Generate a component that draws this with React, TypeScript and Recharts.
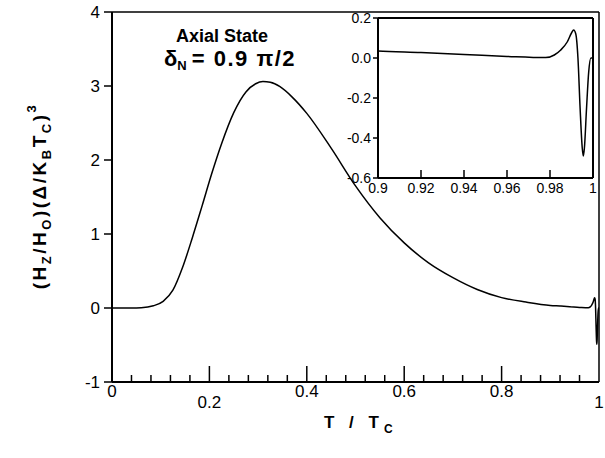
import { LineChart, Line, XAxis, YAxis, ReferenceLine } from 'recharts';

// T / Tc and (Hz/H0)(Δ/kB Tc)^3
const tValues = [
  0, 0.04, 0.06, 0.085, 0.105, 0.125, 0.145, 0.165, 0.185, 0.205, 0.225, 0.25, 0.275,
  0.295, 0.31, 0.325, 0.345, 0.37, 0.4, 0.45, 0.5, 0.55, 0.6, 0.65, 0.7, 0.75, 0.8,
  0.85, 0.9, 0.92, 0.94, 0.96, 0.978, 0.982, 0.985, 0.988, 0.99, 0.991, 0.992, 0.993,
  0.994, 0.995, 0.9955, 0.996, 0.997, 0.998, 0.999, 1.0,
];
const hValues = [
  0, 0, 0.003, 0.03, 0.09, 0.24, 0.55, 0.95, 1.38, 1.82, 2.22, 2.64, 2.92,
  3.03, 3.06, 3.05, 2.99, 2.85, 2.63, 2.16, 1.65, 1.22, 0.88, 0.61, 0.41, 0.25, 0.14,
  0.08, 0.035, 0.027, 0.018, 0.008, 0.002, 0.015, 0.04, 0.08, 0.125, 0.14, 0.12, 0.0,
  -0.25, -0.45, -0.49, -0.45, -0.25, -0.07, 0.0, 0.0,
];

const mainXTicks = [
  0, 0.04, 0.08, 0.12, 0.16, 0.2, 0.24, 0.28, 0.32, 0.36, 0.4, 0.44, 0.48, 0.52,
  0.56, 0.6, 0.64, 0.68, 0.72, 0.76, 0.8, 0.84, 0.88, 0.92, 0.96, 1,
];
const mainXLabels = [0, 0.2, 0.4, 0.6, 0.8, 1];
const mainYTicks = [-1, 0, 1, 2, 3, 4];

const insetXTicks = [0.9, 0.92, 0.94, 0.96, 0.98, 1];
const insetYTicks = [-0.6, -0.4, -0.2, 0, 0.2];

const data = tValues.map((t, i) => ({ t, h: hValues[i] }));

const FONT = '"Liberation Sans", Arial, Helvetica, sans-serif';
const near = (a: number, b: number) => Math.abs(a - b) < 1e-6;

function MainXTick({ x, y, payload }: any) {
  const v = payload.value;
  const major = mainXLabels.some((m) => near(m, v));
  // the scan has 0.2 and 1 printed a bit lower
  const drop = near(v, 0.2) || near(v, 1) ? 26 : 15;
  return (
    <g>
      {v > 0 && v < 1 && (
        <line x1={x} x2={x} y1={y} y2={y - (major ? 16 : 7)} stroke="#000" strokeWidth={1.5} />
      )}
      {major && (
        <text x={x} y={y + drop} textAnchor="middle" fontSize={17} fontFamily={FONT} fill="#000">
          {String(+v.toFixed(2))}
        </text>
      )}
    </g>
  );
}

function InsetXTick({ x, y, payload }: any) {
  const v = payload.value;
  return (
    <g>
      {v > 0.9 && v < 1 && (
        <line x1={x} x2={x} y1={y} y2={y - 8} stroke="#000" strokeWidth={1.5} />
      )}
      <text x={x} y={y + 15} textAnchor="middle" fontSize={14} fontFamily={FONT} fill="#000">
        {String(+v.toFixed(2))}
      </text>
    </g>
  );
}

export default function App() {
  return (
    <div style={{ position: 'absolute', left: 0, top: 0, width: 605, height: 458, background: '#fff' }}>
      <div style={{ position: 'absolute', left: 0, top: 0 }}>
        <LineChart width={605} height={458} data={data} margin={{ top: 12, right: 6, left: 0, bottom: 0 }}>
          <XAxis
            dataKey="t"
            type="number"
            domain={[0, 1]}
            ticks={mainXTicks}
            interval={0}
            tickSize={0}
            tickMargin={0}
            tick={<MainXTick />}
            axisLine={{ stroke: '#000', strokeWidth: 2 }}
            height={76}
          />
          <YAxis
            type="number"
            domain={[-1, 4]}
            ticks={mainYTicks}
            interval={0}
            tickSize={8}
            tickMargin={4}
            tickLine={{ stroke: '#000', strokeWidth: 1.5 }}
            tick={{ fill: '#000', fontSize: 17, fontFamily: FONT }}
            axisLine={{ stroke: '#000', strokeWidth: 2 }}
            width={112}
          />
          <ReferenceLine y={4} stroke="#000" strokeWidth={1.5} />
          <ReferenceLine x={1} stroke="#000" strokeWidth={1.5} />
          <Line
            type="monotone"
            dataKey="h"
            stroke="#000"
            strokeWidth={1.5}
            dot={false}
            isAnimationActive={false}
          />
        </LineChart>
      </div>

      {/* inset: zoom near Tc */}
      <div style={{ position: 'absolute', left: 330, top: 0 }}>
        <LineChart width={275} height={200} data={data} margin={{ top: 18, right: 12, left: 0, bottom: 0 }}>
          <XAxis
            dataKey="t"
            type="number"
            domain={[0.9, 1]}
            allowDataOverflow
            ticks={insetXTicks}
            interval={0}
            tickSize={0}
            tickMargin={0}
            tick={<InsetXTick />}
            axisLine={{ stroke: '#000', strokeWidth: 2 }}
            height={22}
          />
          <YAxis
            type="number"
            domain={[-0.6, 0.2]}
            allowDataOverflow
            ticks={insetYTicks}
            interval={0}
            tickSize={5}
            tickMargin={2}
            tickFormatter={(v: number) => v.toFixed(1)}
            tickLine={{ stroke: '#000', strokeWidth: 1.5 }}
            tick={{ fill: '#000', fontSize: 14, fontFamily: FONT }}
            axisLine={{ stroke: '#000', strokeWidth: 2 }}
            width={48}
          />
          <ReferenceLine y={0.2} stroke="#000" strokeWidth={2} />
          <ReferenceLine x={1} stroke="#000" strokeWidth={2} />
          <Line
            type="monotone"
            dataKey="h"
            stroke="#000"
            strokeWidth={1.5}
            dot={false}
            isAnimationActive={false}
          />
        </LineChart>
      </div>

      {/* titles and annotation */}
      <svg
        width={605}
        height={458}
        style={{ position: 'absolute', left: 0, top: 0, pointerEvents: 'none' }}
        fontFamily={FONT}
        fontWeight="bold"
        fill="#000"
      >
        <text x={176} y={42} fontSize={18}>Axial State</text>
        <text x={164} y={66} fontSize={22}>
          δ<tspan fontSize={13} dy={4}>N</tspan>
          <tspan dy={-4} dx={5} letterSpacing={1.5}>= 0.9 π/2</tspan>
        </text>
        <text x={324} y={428} fontSize={17} letterSpacing={5}>
          T / T<tspan fontSize={12} dy={5} letterSpacing={0}>C</tspan>
        </text>
        <text
          transform="translate(46,196) rotate(-90)"
          textAnchor="middle"
          fontSize={19}
          letterSpacing={2.5}
        >
          (H<tspan fontSize={13} dy={5}>Z</tspan>
          <tspan dy={-5}>/H</tspan>
          <tspan fontSize={13} dy={5}>O</tspan>
          <tspan dy={-5}>)(Δ/K</tspan>
          <tspan fontSize={13} dy={5}>B</tspan>
          <tspan dy={-5}>T</tspan>
          <tspan fontSize={13} dy={5}>C</tspan>
          <tspan dy={-5}>)</tspan>
          <tspan fontSize={13} dy={-10}>3</tspan>
        </text>
      </svg>
    </div>
  );
}
